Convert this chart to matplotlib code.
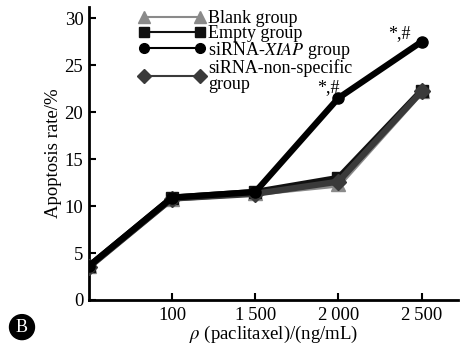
import matplotlib
matplotlib.use('Agg')
import matplotlib.pyplot as plt
from matplotlib.lines import Line2D

# Data
tick_labels = ['100', '1\u2009500', '2\u2009000', '2\u2009500']
x = [0, 1, 2, 3, 4]
blank = [3.6, 10.8, 11.4, 12.3, 22.2]
empty = [3.6, 10.9, 11.5, 13.0, 22.3]
xiap = [3.6, 10.9, 11.5, 21.5, 27.5]
nonspec = [3.5, 10.8, 11.3, 12.6, 22.2]

plt.rcParams['font.family'] = ['Liberation Serif', 'DejaVu Serif']
plt.rcParams['mathtext.fontset'] = 'stix'

fig = plt.figure(figsize=(4.68, 3.48), dpi=100)
ax = fig.add_axes([0.19, 0.138, 0.789, 0.842])

ax.plot(x, blank, color='#8a8a8a', lw=4.5, marker='^', ms=10, zorder=2)
ax.plot(x, empty, color='#111111', lw=4.5, marker='s', ms=8, zorder=3)
ax.plot(x, nonspec, color='#3a3a3a', lw=4.5, marker='D', ms=8, zorder=3)
ax.plot(x, xiap, color='black', lw=4.5, marker='o', ms=8, zorder=4)

ax.text(2.88, 22.1, '*,#', fontsize=13, ha='center')
ax.text(3.73, 27.9, '*,#', fontsize=13, ha='center')

ax.set_xlim(0, 4.44)
ax.set_ylim(0, 31.2)
ax.set_xticks([1, 2, 3, 4])
ax.set_xticklabels(tick_labels)
ax.set_yticks([0, 5, 10, 15, 20, 25, 30])
ax.tick_params(direction='in', labelsize=13.5, width=1.5, length=5)
ax.tick_params(axis='x', pad=5)
ax.tick_params(axis='y', pad=4)
for s in ['top', 'right']:
    ax.spines[s].set_visible(False)
for s in ['left', 'bottom']:
    ax.spines[s].set_linewidth(2)

ax.set_ylabel('Apoptosis rate/%', fontsize=13.5, labelpad=2)
ax.set_xlabel(r'$\rho$ (paclitaxel)/(ng/mL)', fontsize=13.5, labelpad=0)

handles = [
    Line2D([], [], color='#8a8a8a', lw=1.5, marker='^', ms=8),
    Line2D([], [], color='#111111', lw=1.5, marker='s', ms=7),
    Line2D([], [], color='black', lw=1.5, marker='o', ms=7),
    Line2D([], [], color='#3a3a3a', lw=1.5, marker='D', ms=7),
]
labels = ['Blank group', 'Empty group', r'siRNA-$\it{XIAP}$ group',
          'siRNA-non-specific\ngroup']
leg = ax.legend(handles, labels, loc='upper left', bbox_to_anchor=(0.11, 1.02),
                frameon=False, fontsize=13, numpoints=2, handlelength=3.7,
                handletextpad=0.15, labelspacing=-0.12, borderpad=0)
leg.get_texts()[3].set_linespacing(0.95)

fig.text(0.047, 0.06, 'B', color='white', fontsize=13, ha='center', va='center',
         bbox=dict(boxstyle='circle,pad=0.22', fc='black', ec='black'))

fig.savefig('out.png', dpi=100)
